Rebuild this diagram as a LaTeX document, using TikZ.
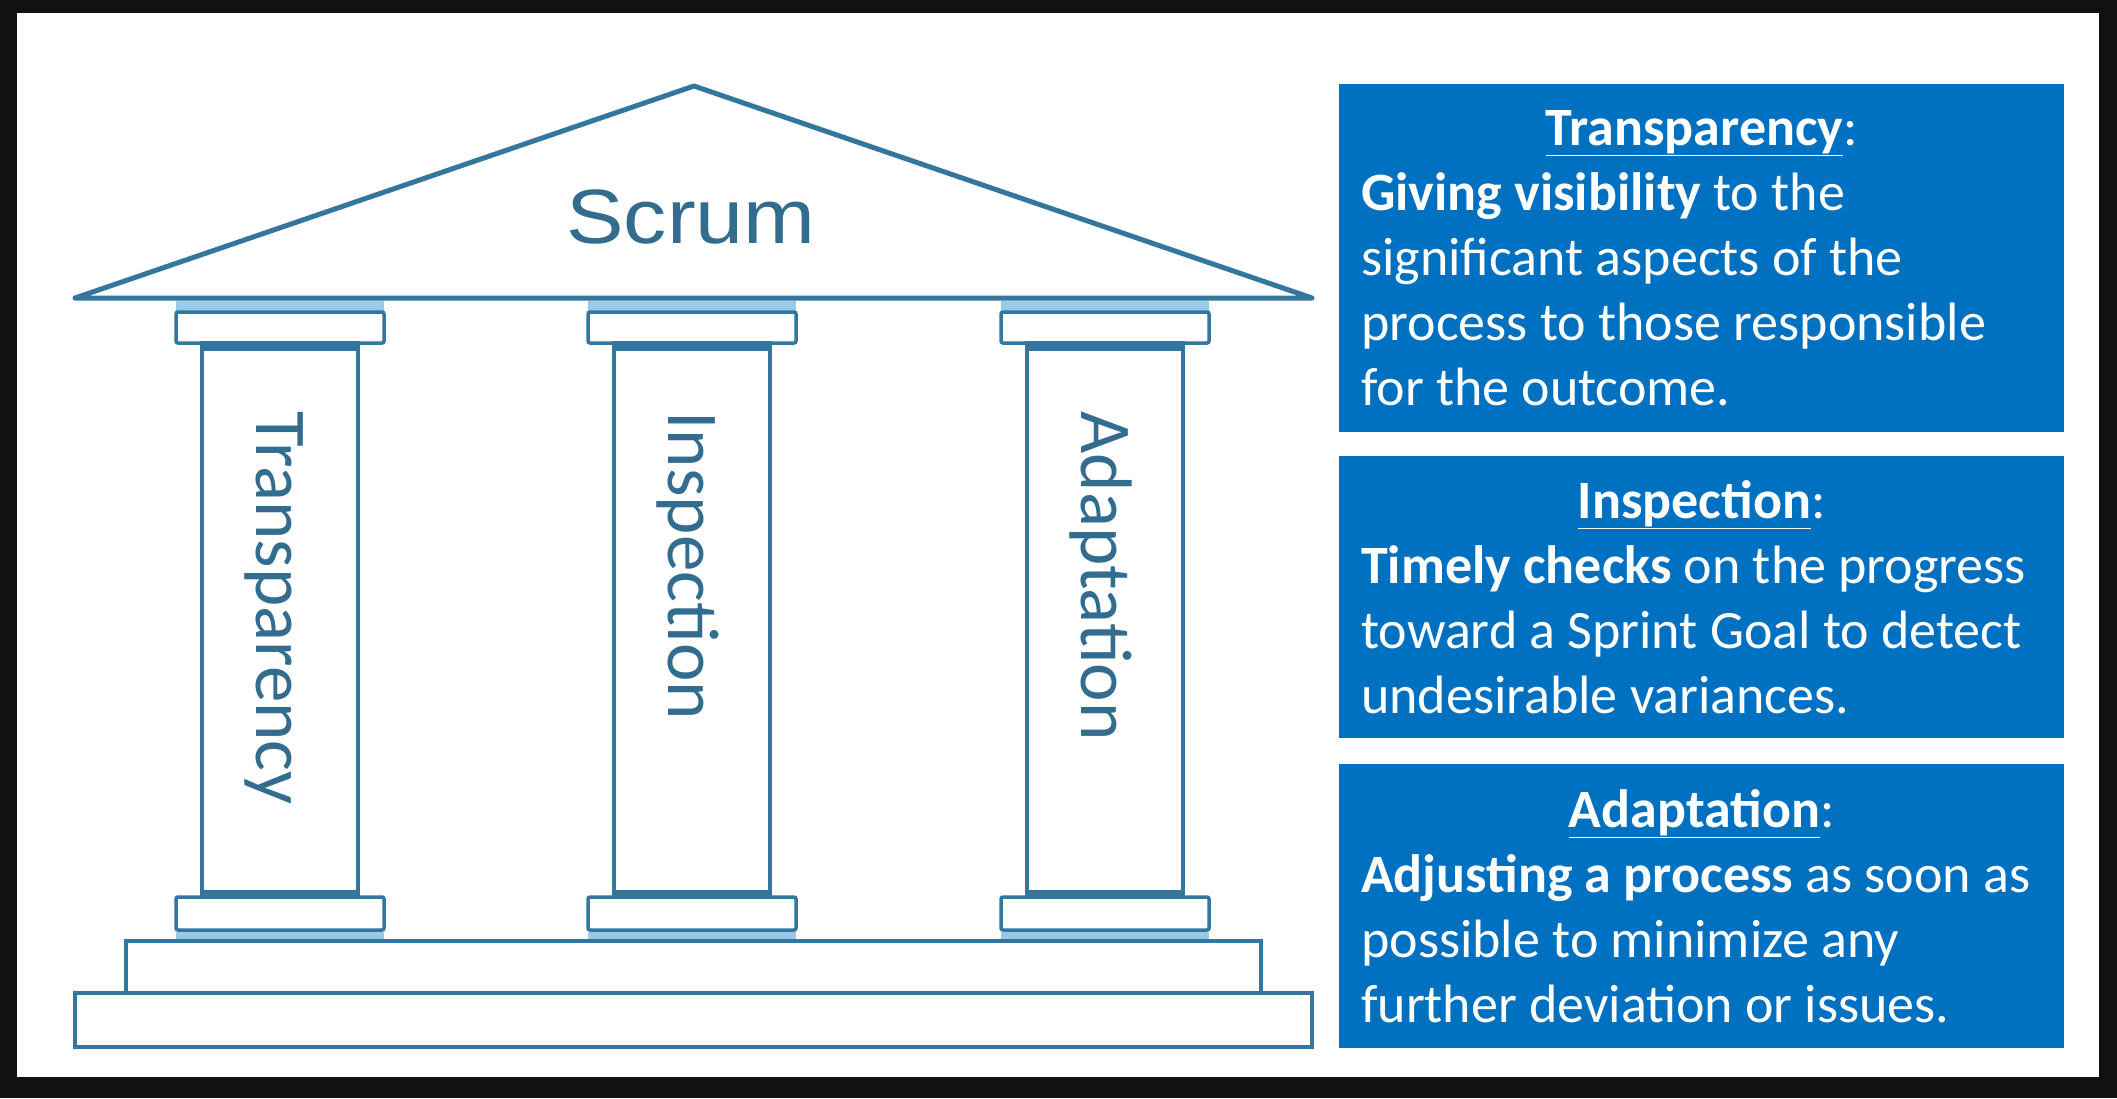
\documentclass[tikz,border=0pt]{standalone}
\usepackage{fontspec}
\setmainfont{Carlito}
\newfontfamily\roofface{Liberation Sans}
\usepackage{tikz}
\definecolor{pillarline}{RGB}{52,118,158}
\definecolor{pillarglow}{RGB}{150,202,230}
\definecolor{pillartext}{RGB}{50,108,142}
\definecolor{boxblue}{RGB}{0,112,192}
\definecolor{frameblack}{RGB}{17,17,17}

\begin{document}
\begin{tikzpicture}[x=1pt,y=-1pt,
 outline/.style={draw=pillarline,line width=3.5pt},
 infobox/.style={fill=boxblue,text=white,anchor=north west,minimum width=725pt,minimum height=#1,
  text width=681pt,inner xsep=22pt,inner ysep=0pt,align=flush left,font=\fontsize{54}{65}\selectfont}]
 \fill[frameblack] (0,0) rectangle (2117,1098);
 \fill[white] (17,13) rectangle (2099,1077);
 % roof
 \draw[outline,line width=5pt,line join=round,fill=white] (694,86) -- (1312,298) -- (75,298) -- cycle;
 \node[font=\roofface\fontsize{77}{80}\selectfont,text=pillartext,xscale=1.12,anchor=base] (roof) at (691,243) {Scrum};
 % steps
 \draw[outline,fill=white] (126,941) rectangle (1261,993);
 \draw[outline,fill=white] (75,993) rectangle (1312,1047);
 % the three pillars
 \foreach \cx/\word/\nm in {280/Transparency/ptr, 692/Inspection/pin, 1105/Adaptation/pad}{
  \fill[pillarglow] (\cx-104,301) rectangle (\cx+104,312);
  \draw[outline,rounded corners=2pt] (\cx-104,312) rectangle (\cx+104,343);
  \draw[outline] (\cx-78,343) rectangle (\cx+78,897);
  \draw[pillarline,line width=7pt] (\cx-78,347) -- (\cx+78,347) (\cx-78,893) -- (\cx+78,893);
  \draw[outline,rounded corners=2pt] (\cx-104,897) rectangle (\cx+104,930);
  \fill[pillarglow] (\cx-104,932) rectangle (\cx+104,939);
  \node[rotate=-90,anchor=base west,text=pillartext,font=\fontsize{73}{80}\selectfont] (\nm) at (\cx-24,408) {\word};
 }
 % explanations
 \node[infobox=348pt] (btr) at (1339,84) {\makebox[\linewidth]{\textbf{\underline{Transparency}}:}\\
  \textbf{Giving visibility} to the\\ significant aspects of the\\ process to those responsible\\ for the outcome.};
 \node[infobox=282pt] (bin) at (1339,456) {\makebox[\linewidth]{\textbf{\underline{Inspection}}:}\\
  \textbf{Timely checks} on the progress\\ toward a Sprint Goal to detect\\ undesirable variances.};
 \node[infobox=284pt] (bad) at (1339,764) {\makebox[\linewidth]{\textbf{\underline{Adaptation}}:}\\
  \textbf{Adjusting a process} as soon as\\ possible to minimize any\\ further deviation or issues.};
\end{tikzpicture}
\end{document}
